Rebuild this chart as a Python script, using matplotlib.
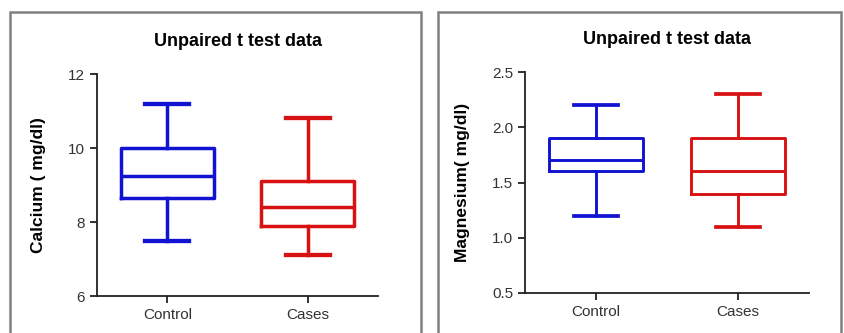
import matplotlib.pyplot as plt
from matplotlib.patches import Rectangle

categories = ['Control', 'Cases']

# whisker low, q1, median, q3, whisker high
calcium_control = [7.5, 8.65, 9.25, 10.0, 11.2]
calcium_cases = [7.1, 7.9, 8.4, 9.1, 10.8]
magnesium_control = [1.2, 1.6, 1.7, 1.9, 2.2]
magnesium_cases = [1.1, 1.4, 1.6, 1.9, 2.3]

colors = ['#1212d2', '#d81212']

plt.rcParams['font.family'] = ['Liberation Sans', 'DejaVu Sans']


def make_stats(vals, label):
    lo, q1, med, q3, hi = vals
    return dict(whislo=lo, q1=q1, med=med, q3=q3, whishi=hi, label=label, fliers=[])


def draw_panel(ax, groups, ylabel, yticks, ylim, lw):
    for i, (vals, c) in enumerate(zip(groups, colors)):
        st = make_stats(vals, categories[i])
        ax.bxp([st], positions=[i + 1], widths=0.66, showfliers=False,
               boxprops=dict(color=c, lw=lw),
               medianprops=dict(color=c, lw=lw),
               whiskerprops=dict(color=c, lw=lw),
               capprops=dict(color=c, lw=lw + 0.6),
               capwidths=0.31)
    ax.set_xlim(0.5, 2.5)
    ax.set_ylim(*ylim)
    ax.set_yticks(yticks)
    ax.set_xticks([1, 2])
    ax.set_xticklabels(categories)
    for s in ['top', 'right']:
        ax.spines[s].set_visible(False)
    for s in ['left', 'bottom']:
        ax.spines[s].set_linewidth(1.3)
        ax.spines[s].set_color('#222222')
    ax.tick_params(axis='both', direction='out', length=5, width=1.3,
                   colors='#222222', labelsize=11, labelcolor='#333333')
    ax.set_ylabel(ylabel, fontsize=12.5, fontweight='bold', labelpad=16)
    ax.set_title('Unpaired t test data', fontsize=13, fontweight='bold', pad=20)


fig = plt.figure(figsize=(8.44, 3.33), dpi=100)

# panel frames
fig.patches.append(Rectangle((10 / 844, -0.05), 411 / 844, 1.05 - 12 / 333,
                             transform=fig.transFigure, fill=False,
                             edgecolor='#808080', lw=1.8))
fig.patches.append(Rectangle((438 / 844, -0.05), 403 / 844, 1.05 - 12 / 333,
                             transform=fig.transFigure, fill=False,
                             edgecolor='#808080', lw=1.8))

ax1 = fig.add_axes([97 / 844, 37 / 333, 281 / 844, 222 / 333])
draw_panel(ax1, [calcium_control, calcium_cases], 'Calcium ( mg/dl)',
           [6, 8, 10, 12], (6, 12), 2.5)

ax2 = fig.add_axes([525 / 844, 40 / 333, 284 / 844, 221 / 333])
draw_panel(ax2, [magnesium_control, magnesium_cases], 'Magnesium( mg/dl)',
           [0.5, 1.0, 1.5, 2.0, 2.5], (0.5, 2.5), 2.1)
ax2.set_yticklabels(['0.5', '1.0', '1.5', '2.0', '2.5'])

fig.savefig('out.png', dpi=100)
